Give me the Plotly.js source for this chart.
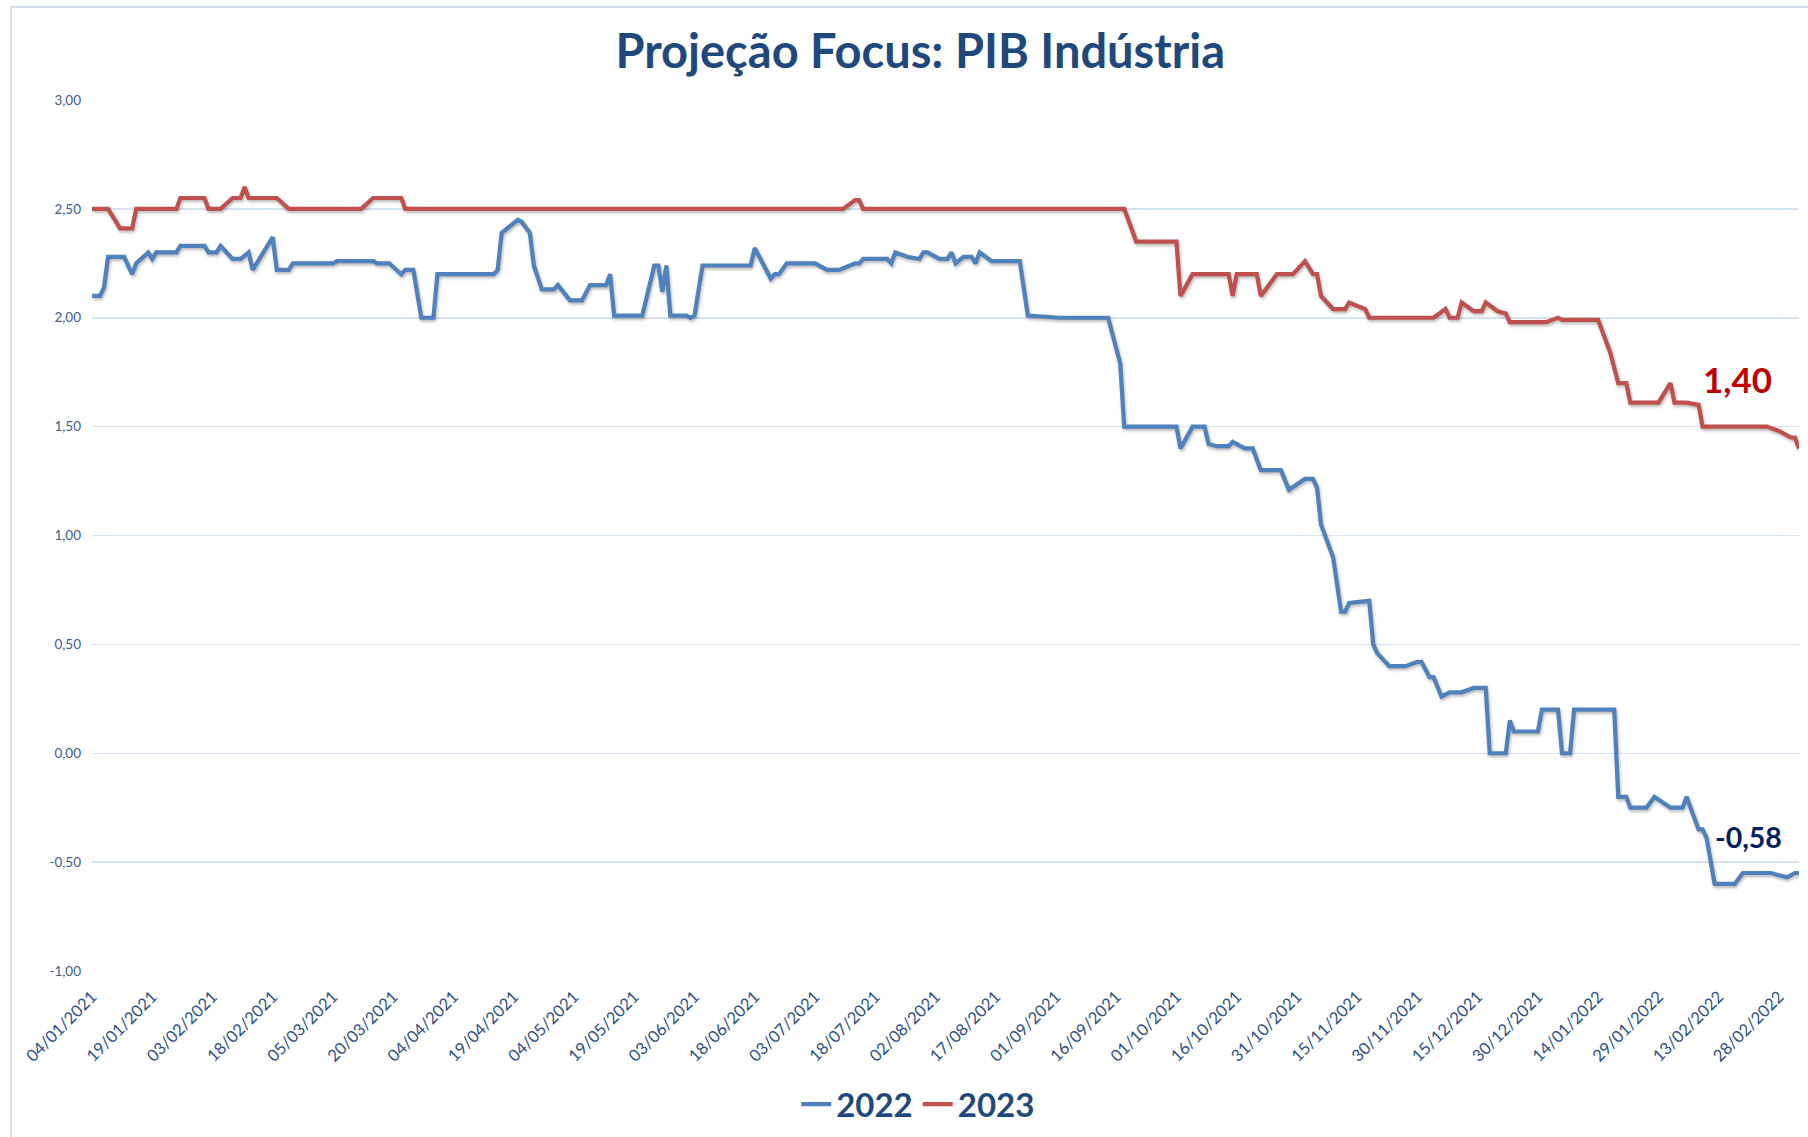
<!DOCTYPE html>
<html>
<head>
<meta charset="utf-8">
<script src="https://cdn.plot.ly/plotly-3.0.1.min.js"></script>
<style>
  html, body { margin: 0; padding: 0; background: #ffffff; }
  #chart { width: 1808px; height: 1137px; }
  #chart .scatterlayer .trace path.js-line { filter: drop-shadow(1px 2px 1.5px rgba(0,0,0,0.28)); }
</style>
</head>
<body>
<div id="chart"></div>
<script>
// ---- Data ----
const chartTitle = 'Projeção Focus: PIB Indústria';
const seriesNames = ['2022', '2023'];

const dates2022 = [
  '2021-01-04','2021-01-06','2021-01-07','2021-01-08','2021-01-12','2021-01-14','2021-01-15','2021-01-18','2021-01-19','2021-01-20',
  '2021-01-25','2021-01-26','2021-02-01','2021-02-02','2021-02-04','2021-02-05','2021-02-08','2021-02-10','2021-02-12','2021-02-13',
  '2021-02-18','2021-02-19','2021-02-22','2021-02-23','2021-03-05','2021-03-06','2021-03-15','2021-03-16','2021-03-19','2021-03-22',
  '2021-03-23','2021-03-25','2021-03-27','2021-03-30','2021-03-31','2021-04-14','2021-04-15','2021-04-16','2021-04-20','2021-04-21',
  '2021-04-23','2021-04-24','2021-04-26','2021-04-29','2021-04-30','2021-05-03','2021-05-06','2021-05-08','2021-05-12','2021-05-13',
  '2021-05-14','2021-05-21','2021-05-24','2021-05-25','2021-05-26','2021-05-27','2021-05-28','2021-06-01','2021-06-02','2021-06-03',
  '2021-06-05','2021-06-17','2021-06-18','2021-06-22','2021-06-23','2021-06-24','2021-06-26','2021-07-03','2021-07-06','2021-07-09',
  '2021-07-13','2021-07-14','2021-07-15','2021-07-21','2021-07-22','2021-07-23','2021-07-26','2021-07-29','2021-07-30','2021-07-31',
  '2021-08-03','2021-08-05','2021-08-06','2021-08-07','2021-08-09','2021-08-11','2021-08-12','2021-08-13','2021-08-16','2021-08-23',
  '2021-08-25','2021-09-02','2021-09-14','2021-09-17','2021-09-18','2021-10-01','2021-10-02','2021-10-05','2021-10-08','2021-10-09',
  '2021-10-11','2021-10-14','2021-10-15','2021-10-16','2021-10-18','2021-10-20','2021-10-22','2021-10-27','2021-10-29','2021-11-02',
  '2021-11-04','2021-11-05','2021-11-06','2021-11-09','2021-11-11','2021-11-12','2021-11-13','2021-11-18','2021-11-19','2021-11-20',
  '2021-11-23','2021-11-27','2021-11-30','2021-12-01','2021-12-03','2021-12-04','2021-12-06','2021-12-08','2021-12-11','2021-12-14',
  '2021-12-17','2021-12-18','2021-12-22','2021-12-23','2021-12-24','2021-12-30','2021-12-31','2022-01-04','2022-01-05','2022-01-07',
  '2022-01-08','2022-01-18','2022-01-19','2022-01-21','2022-01-22','2022-01-26','2022-01-28','2022-02-01','2022-02-04','2022-02-05',
  '2022-02-08','2022-02-09','2022-02-10','2022-02-12','2022-02-17','2022-02-19','2022-02-26','2022-03-02','2022-03-04','2022-03-05'
];
const values2022 = [
  2.10,2.10,2.14,2.28,2.28,2.20,2.25,2.30,2.27,2.30,
  2.30,2.33,2.33,2.30,2.30,2.33,2.27,2.27,2.30,2.22,
  2.37,2.22,2.22,2.25,2.25,2.26,2.26,2.25,2.25,2.20,
  2.22,2.22,2.00,2.00,2.20,2.20,2.22,2.39,2.45,2.44,
  2.39,2.24,2.13,2.13,2.15,2.08,2.08,2.15,2.15,2.20,
  2.01,2.01,2.24,2.24,2.12,2.24,2.01,2.01,2.00,2.01,
  2.24,2.24,2.32,2.18,2.20,2.20,2.25,2.25,2.22,2.22,
  2.25,2.25,2.27,2.27,2.25,2.30,2.28,2.27,2.30,2.30,
  2.27,2.27,2.30,2.25,2.28,2.28,2.25,2.30,2.26,2.26,
  2.01,2.00,2.00,1.79,1.50,1.50,1.40,1.50,1.50,1.42,
  1.41,1.41,1.43,1.42,1.40,1.40,1.30,1.30,1.21,1.26,
  1.26,1.22,1.05,0.90,0.65,0.65,0.69,0.70,0.50,0.46,
  0.40,0.40,0.42,0.42,0.35,0.35,0.26,0.28,0.28,0.30,
  0.30,0.00,0.00,0.15,0.10,0.10,0.20,0.20,0.00,0.00,
  0.20,0.20,-0.20,-0.20,-0.25,-0.25,-0.20,-0.25,-0.25,-0.20,
  -0.35,-0.35,-0.39,-0.60,-0.60,-0.55,-0.55,-0.57,-0.55,-0.55
];

const dates2023 = [
  '2021-01-04','2021-01-08','2021-01-11','2021-01-14','2021-01-15','2021-01-25','2021-01-26','2021-02-01','2021-02-02','2021-02-05',
  '2021-02-08','2021-02-10','2021-02-11','2021-02-12','2021-02-19','2021-02-22','2021-03-12','2021-03-15','2021-03-22','2021-03-23',
  '2021-07-10','2021-07-13','2021-07-14','2021-07-15','2021-09-18','2021-09-21','2021-10-01','2021-10-02','2021-10-05','2021-10-14',
  '2021-10-15','2021-10-16','2021-10-21','2021-10-22','2021-10-26','2021-10-30','2021-11-02','2021-11-04','2021-11-05','2021-11-06',
  '2021-11-09','2021-11-12','2021-11-13','2021-11-17','2021-11-18','2021-12-04','2021-12-07','2021-12-08','2021-12-10','2021-12-11',
  '2021-12-14','2021-12-16','2021-12-17','2021-12-20','2021-12-22','2021-12-23','2022-01-01','2022-01-04','2022-01-05','2022-01-14',
  '2022-01-17','2022-01-19','2022-01-21','2022-01-22','2022-01-29','2022-02-01','2022-02-02','2022-02-05','2022-02-08','2022-02-09',
  '2022-02-25','2022-02-28','2022-03-03','2022-03-04','2022-03-05'
];
const values2023 = [
  2.50,2.50,2.41,2.41,2.50,2.50,2.55,2.55,2.50,2.50,
  2.55,2.55,2.60,2.55,2.55,2.50,2.50,2.55,2.55,2.50,
  2.50,2.54,2.54,2.50,2.50,2.35,2.35,2.10,2.20,2.20,
  2.10,2.20,2.20,2.10,2.20,2.20,2.26,2.20,2.20,2.10,
  2.04,2.04,2.07,2.04,2.00,2.00,2.04,2.00,2.00,2.07,
  2.03,2.03,2.07,2.03,2.02,1.98,1.98,2.00,1.99,1.99,
  1.84,1.70,1.70,1.61,1.61,1.70,1.61,1.61,1.60,1.50,
  1.50,1.48,1.45,1.45,1.40
];

const lastLabels = ['-0,58', '1,40'];
const yTickVals = [-1, -0.5, 0, 0.5, 1, 1.5, 2, 2.5, 3];
const yTickText = ['-1,00', '-0,50', '0,00', '0,50', '1,00', '1,50', '2,00', '2,50', '3,00'];
const xRange = ['2021-01-04', '2022-03-05'];
const xTickStart = '2021-01-04';

// ---- Styles ----
const FONT = 'Lato, "Open Sans", "DejaVu Sans", sans-serif';
const BLUE = '#4F81BD';
const RED = '#C0504D';
const GRID = '#D6E3F3';
const DAY = 86400000;

const traces = [
  { x: dates2022, y: values2022, name: seriesNames[0], type: 'scatter', mode: 'lines',
    line: { color: BLUE, width: 4.2 } },
  { x: dates2023, y: values2023, name: seriesNames[1], type: 'scatter', mode: 'lines',
    line: { color: RED, width: 4.2 } }
];

const layout = {
  width: 1808, height: 1137,
  paper_bgcolor: '#ffffff', plot_bgcolor: '#ffffff',
  margin: { l: 92, r: 9, t: 100, b: 166, autoexpand: false },
  font: { family: FONT },
  title: {
    text: chartTitle,
    font: { family: FONT, size: 47, weight: 700, color: '#1F497D' },
    xref: 'container', x: 0.509, xanchor: 'center',
    yref: 'container', y: 0.955, yanchor: 'middle'
  },
  xaxis: {
    type: 'date', range: xRange, automargin: false,
    tick0: xTickStart, dtick: 15 * DAY,
    tickformat: '%d/%m/%Y', tickangle: -45,
    showgrid: false, zeroline: false, showline: false,
    ticks: '', ticklabelstandoff: 12,
    tickfont: { family: FONT, size: 16.5, color: '#2B4F85' }
  },
  xaxis2: {
    type: 'date', range: xRange, automargin: false,
    tick0: xTickStart, dtick: 15 * DAY,
    overlaying: 'x', anchor: 'free', position: 0.25,
    showgrid: false, zeroline: false, showline: false,
    showticklabels: false, ticks: 'outside', ticklen: 6, tickwidth: 1.5, tickcolor: GRID
  },
  yaxis: {
    range: [-1, 3], automargin: false,
    tickvals: yTickVals, ticktext: yTickText,
    showgrid: true, gridcolor: GRID, gridwidth: 1.5,
    zeroline: false, showline: false, ticks: '',
    ticklabelstandoff: 10,
    tickfont: { family: FONT, size: 13.5, color: '#3E5D8E' }
  },
  showlegend: true,
  legend: {
    orientation: 'h', x: 0.484, xanchor: 'center', y: -0.153, yanchor: 'middle',
    font: { family: FONT, size: 33, weight: 700, color: '#1F497D' },
    itemwidth: 30, itemclick: false, traceorder: 'normal'
  },
  annotations: [
    { xref: 'paper', yref: 'paper', x: 0.9637, y: 0.6797, xanchor: 'center', yanchor: 'middle',
      text: lastLabels[1], showarrow: false,
      font: { family: FONT, size: 35, weight: 700, color: '#C00000' } },
    { xref: 'paper', yref: 'paper', x: 0.9707, y: 0.1538, xanchor: 'center', yanchor: 'middle',
      text: lastLabels[0], showarrow: false,
      font: { family: FONT, size: 28.5, weight: 700, color: '#002060' } }
  ],
  shapes: [
    { type: 'rect', xref: 'paper', yref: 'paper',
      x0: (11 - 92) / 1707, x1: 1.2, y0: -0.4, y1: (971 - 7) / 871,
      line: { color: '#D4E0EF', width: 2 }, fillcolor: 'rgba(0,0,0,0)', layer: 'below' }
  ]
};

Plotly.newPlot('chart', traces, layout, { displayModeBar: false, staticPlot: true });
</script>
</body>
</html>
